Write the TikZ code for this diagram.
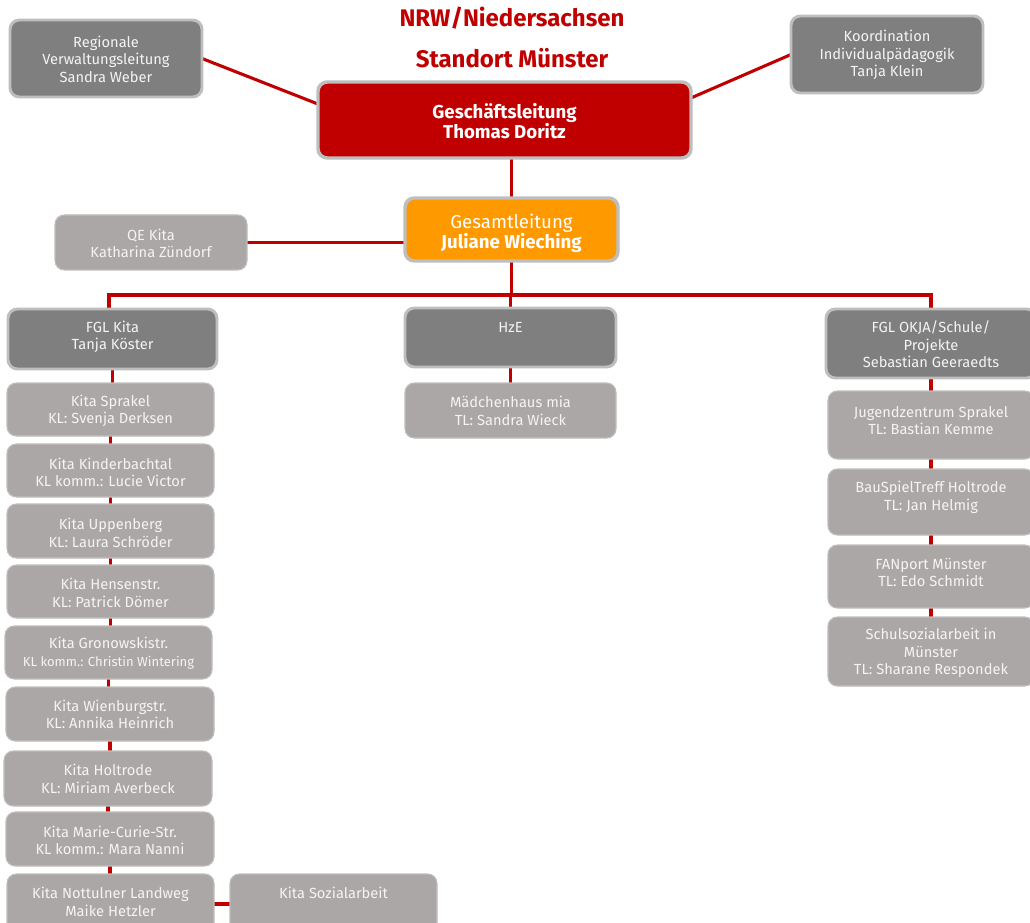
\documentclass[tikz,border=0pt]{standalone}
\usepackage{fontspec}
\setmainfont{Fira Sans}
\usetikzlibrary{calc,backgrounds}
\definecolor{rd}{HTML}{C00000}
\definecolor{dg}{HTML}{7F7F7F}
\definecolor{lg}{HTML}{ABA7A6}
\definecolor{og}{HTML}{FF9900}
\definecolor{bd}{HTML}{BEBEBE}
\definecolor{tx}{HTML}{F4F4F4}
\tikzset{
  base/.style={rectangle, rounded corners=7pt, inner sep=0pt, outer sep=0pt},
  darkbox/.style={base, fill=dg, draw=bd, line width=2.2pt},
  lightbox/.style={base, fill=lg, draw=lg!75!white, line width=0.8pt},
  redbox/.style={base, fill=rd, draw=bd, line width=2.6pt},
  orangebox/.style={base, fill=og, draw=bd, line width=2.6pt},
  txt/.style={text=tx, align=center, inner sep=0pt, font=\fontsize{11}{13.1}\selectfont},
  titletxt/.style={text=rd, inner sep=0pt, font=\fontsize{18}{20}\selectfont\bfseries},
  conn/.style={draw=rd, line width=2.3pt}
}
\newcommand\obox[6]{%
  \node[#2, minimum width={(#5-#3)*0.75pt}, minimum height={(#6-#4)*0.75pt}] (#1) at ({(#3+#5)/2},{(#4+#6)/2}) {};}
\begin{document}
\begin{tikzpicture}[x=0.75pt,y=-0.75pt]
\useasboundingbox (0,0) rectangle (1030,923);
\clip (0,0) rectangle (1030,923);

% titles
\node[titletxt] (t1) at (512,18) {NRW/Niedersachsen};
\node[titletxt] (t2) at (512,58) {Standort Münster};

% top level
\obox{reg}{darkbox}{10}{20}{202}{97}
\node[txt] (regt) at (106,59) {Regionale\\Verwaltungsleitung\\Sandra Weber};
\obox{koo}{darkbox}{791}{16}{983}{93}
\node[txt] (koot) at (887,55) {Koordination\\Individualpädagogik\\Tanja Klein};
\obox{gl}{redbox}{318}{82}{691}{158}
\node[txt, text=white, font=\fontsize{14}{14.5}\selectfont\bfseries] (glt) at (504.5,121) {Geschäftsleitung\\Thomas Doritz};
\obox{gs}{orangebox}{405}{198}{618}{261}
\node[txt, text=white, font=\fontsize{14}{15}\selectfont] (gst) at (511.5,233) {Gesamtleitung\\\textbf{Juliane Wieching}};
\obox{qe}{lightbox}{55}{215}{247}{270}
\node[txt] (qet) at (151,243.5) {QE Kita\\Katharina Zündorf};

% second level
\obox{fglk}{darkbox}{8}{309}{217}{369}
\node[txt] (fglkt) at (112.5,337) {FGL Kita\\Tanja Köster};
\obox{hze}{darkbox}{405}{308}{616}{367}
\node[txt] (hzet) at (510.5,327) {HzE};
\obox{fglo}{darkbox}{826}{309}{1036}{378}
\node[txt] (fglot) at (931,344.5) {FGL OKJA/Schule/\\Projekte\\Sebastian Geeraedts};

% Kita column
\obox{k1}{lightbox}{7}{383}{214}{436}
\node[txt] at (110.5,411) {Kita Sprakel\\KL: Svenja Derksen};
\obox{k2}{lightbox}{7}{444}{214}{497}
\node[txt] at (110.5,472.5) {Kita Kinderbachtal\\KL komm.: Lucie Victor};
\obox{k3}{lightbox}{7}{504}{214}{558}
\node[txt] at (110.5,533) {Kita Uppenberg\\KL: Laura Schröder};
\obox{k4}{lightbox}{7}{565}{214}{618}
\node[txt] at (110.5,593) {Kita Hensenstr.\\KL: Patrick Dömer};
\obox{k5}{lightbox}{5}{626}{212}{679}
\node[txt] at (108.5,653) {Kita Gronowskistr.\\{\fontsize{9.8}{12}\selectfont KL komm.: Christin Wintering}};
\obox{k6}{lightbox}{6}{687}{214}{741}
\node[txt] at (110,714.5) {Kita Wienburgstr.\\KL: Annika Heinrich};
\obox{k7}{lightbox}{4}{751}{212}{806}
\node[txt] at (108,779) {Kita Holtrode\\KL: Miriam Averbeck};
\obox{k8}{lightbox}{6}{812}{214}{866}
\node[txt] at (110,840.5) {Kita Marie-Curie-Str.\\KL komm.: Mara Nanni};
\obox{k9}{lightbox}{7}{874}{214}{940}
\node[txt] at (110.5,902) {Kita Nottulner Landweg\\Maike Hetzler};
\obox{ks}{lightbox}{230}{874}{437}{940}
\node[txt] at (333.5,893) {Kita Sozialarbeit};

% HzE column
\obox{mia}{lightbox}{405}{383}{616}{438}
\node[txt] at (510.5,411) {Mädchenhaus mia\\TL: Sandra Wieck};

% OKJA column
\obox{j1}{lightbox}{828}{391}{1034}{459}
\node[txt] at (931,420.5) {Jugendzentrum Sprakel\\TL: Bastian Kemme};
\obox{j2}{lightbox}{828}{469}{1034}{535}
\node[txt] at (931,497.5) {BauSpielTreff Holtrode\\TL: Jan Helmig};
\obox{j3}{lightbox}{828}{545}{1034}{608}
\node[txt] at (931,572.5) {FANport Münster\\TL: Edo Schmidt};
\obox{j4}{lightbox}{828}{617}{1034}{686}
\node[txt] at (931,653) {Schulsozialarbeit in\\Münster\\TL: Sharane Respondek};

\coordinate (busL) at (109,295);
\coordinate (busR) at (931,295);

\begin{scope}[on background layer]
  \fill[white] (0,0) rectangle (1030,923);
  \draw[conn] (reg.east) -- ($(gl.north west)!0.29!(gl.south west)$);
  \draw[conn] (koo.west) -- ($(gl.north east)!0.21!(gl.south east)$);
  \draw[conn] (gs.north) -- (gs.north |- gl.south);
  \draw[conn] (qe.east) -- (qe.east -| gs.west);
  \draw[conn] (gs.south) -- (gs.south |- busL);
  \draw[conn] (busL |- fglk.north) -- (busL) -- (busR) -- (busR |- fglo.north);
  \draw[conn] (hze.north) -- (hze.north |- busL);
  \draw[conn] (hze.south) -- (mia.north);
  \draw[conn] (fglk.south) -- (fglk.south |- k1.north);
  \foreach \a/\b in {k1/k2,k2/k3,k3/k4,k4/k5,k5/k6,k6/k7,k7/k8,k8/k9}
    \draw[conn] (\a.south) -- (\a.south |- \b.north);
  \draw[conn] (k9.east |- 0,904) -- (ks.west |- 0,904);
  \draw[conn] (fglo.south -| busR) -- (busR |- j1.north);
  \foreach \a/\b in {j1/j2,j2/j3,j3/j4}
    \draw[conn] (\a.south) -- (\a.south |- \b.north);
\end{scope}
\end{tikzpicture}
\end{document}
